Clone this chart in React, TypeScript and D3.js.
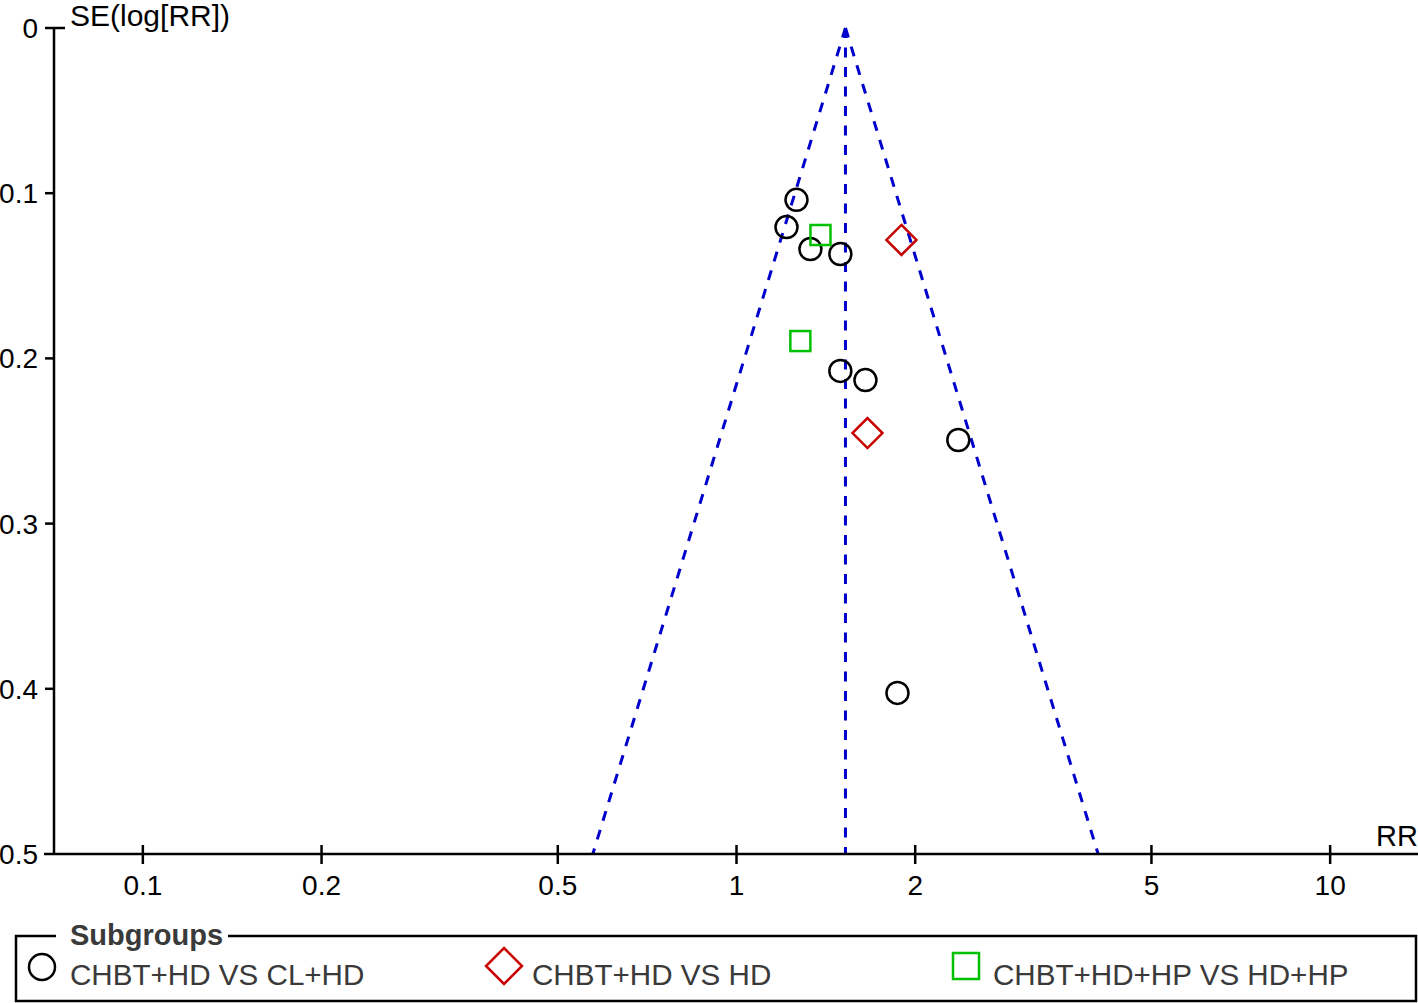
import React from "react";
import * as d3 from "d3";

const circleRR = [1.262, 1.214, 1.332, 1.496, 1.496, 1.649, 2.364, 1.867];
const circleSE = [0.104, 0.1205, 0.1338, 0.1368, 0.2076, 0.2131, 0.2494, 0.4025];
const diamondRR = [1.896, 1.662];
const diamondSE = [0.1283, 0.2452];
const squareRR = [1.385, 1.281];
const squareSE = [0.1253, 0.1895];
const pooledRR = 1.526;
const xTicks = [0.1, 0.2, 0.5, 1, 2, 5, 10];
const yTicks = [0, 0.1, 0.2, 0.3, 0.4, 0.5];
const legendLabels = ["CHBT+HD VS CL+HD", "CHBT+HD VS HD", "CHBT+HD+HP VS HD+HP"];

const FONT = "'Liberation Sans', Arial, sans-serif";
const BLUE = "#0000cc";
const RED = "#c80000";
const GREEN = "#00c000";

export default function App() {
  const W = 1418, H = 1003;
  const x = d3.scaleLog().domain([1 / 14.06, 14.06]).range([55, 1418]);
  const y = d3.scaleLinear().domain([0, 0.5]).range([28, 854]);
  const seMax = 0.5;
  const lp = Math.log(pooledRR);
  const apex: [number, number] = [x(pooledRR), y(0)];
  const leftEnd: [number, number] = [x(Math.exp(lp - 1.96 * seMax)), y(seMax)];
  const rightEnd: [number, number] = [x(Math.exp(lp + 1.96 * seMax)), y(seMax)];
  const line = d3.line();
  const dash = "10,9.5";

  const diamondPath = (cx: number, cy: number, r: number) =>
    `M${cx},${cy - r}L${cx + r},${cy}L${cx},${cy + r}L${cx - r},${cy}Z`;

  return (
    <svg
      width={W}
      height={H}
      style={{ position: "absolute", left: 0, top: 0, background: "#fff" }}
      fontFamily={FONT}
    >
      <rect width={W} height={H} fill="#fff" />
      {/* funnel */}
      <path d={line([apex, leftEnd]) || ""} stroke={BLUE} strokeWidth={3} strokeDasharray={dash} fill="none" />
      <path d={line([apex, rightEnd]) || ""} stroke={BLUE} strokeWidth={3} strokeDasharray={dash} fill="none" />
      <path d={line([apex, [apex[0], y(seMax)]]) || ""} stroke={BLUE} strokeWidth={3} strokeDasharray={dash} fill="none" />

      {/* axes */}
      <line x1={54} y1={y(0)} x2={54} y2={y(0.5)} stroke="#000" strokeWidth={2.5} />
      <line x1={44} y1={854} x2={1418} y2={854} stroke="#000" strokeWidth={2.5} />
      {yTicks.map((t) => (
        <g key={"y" + t}>
          {t < 0.5 && <line x1={45} x2={t === 0 ? 65 : 54} y1={y(t)} y2={y(t)} stroke="#000" strokeWidth={2.5} />}
          <text x={38} y={y(t) + 10} textAnchor="end" fontSize={28} fill="#000">
            {t === 0 ? "0" : String(t)}
          </text>
        </g>
      ))}
      {xTicks.map((t) => (
        <g key={"x" + t}>
          <line x1={x(t)} x2={x(t)} y1={845} y2={864} stroke="#000" strokeWidth={2.5} />
          <text x={x(t)} y={895} textAnchor="middle" fontSize={28} fill="#000">
            {String(t)}
          </text>
        </g>
      ))}
      <text x={70} y={26} fontSize={30} fill="#000">SE(log[RR])</text>
      <text x={1418} y={846} textAnchor="end" fontSize={29} fill="#000">RR</text>

      {/* points */}
      {circleRR.map((v, i) => (
        <circle key={"c" + i} cx={x(v)} cy={y(circleSE[i])} r={11} fill="none" stroke="#000" strokeWidth={2.5} />
      ))}
      {diamondRR.map((v, i) => (
        <path key={"d" + i} d={diamondPath(x(v), y(diamondSE[i]), 15)} fill="none" stroke={RED} strokeWidth={2.5} />
      ))}
      {squareRR.map((v, i) => (
        <rect key={"s" + i} x={x(v) - 10} y={y(squareSE[i]) - 10} width={20} height={20} fill="none" stroke={GREEN} strokeWidth={2.5} />
      ))}

      {/* legend */}
      <path d="M56,936 L16,936 L16,1001 L1416,1001 L1416,936 L228,936" fill="none" stroke="#000" strokeWidth={2.5} />
      <text x={70} y={945} fontSize={29} fontWeight="bold" fill="#3a3a3a">Subgroups</text>
      <circle cx={42} cy={967} r={13} fill="none" stroke="#000" strokeWidth={2.5} />
      <text x={70} y={985} fontSize={29.6} fill="#3a3a3a">{legendLabels[0]}</text>
      <path d={diamondPath(504, 966, 18)} fill="none" stroke={RED} strokeWidth={2.5} />
      <text x={532} y={985} fontSize={29.6} fill="#3a3a3a">{legendLabels[1]}</text>
      <rect x={953} y={953} width={26} height={26} fill="none" stroke={GREEN} strokeWidth={2.5} />
      <text x={993} y={985} fontSize={29.6} fill="#3a3a3a">{legendLabels[2]}</text>
    </svg>
  );
}
